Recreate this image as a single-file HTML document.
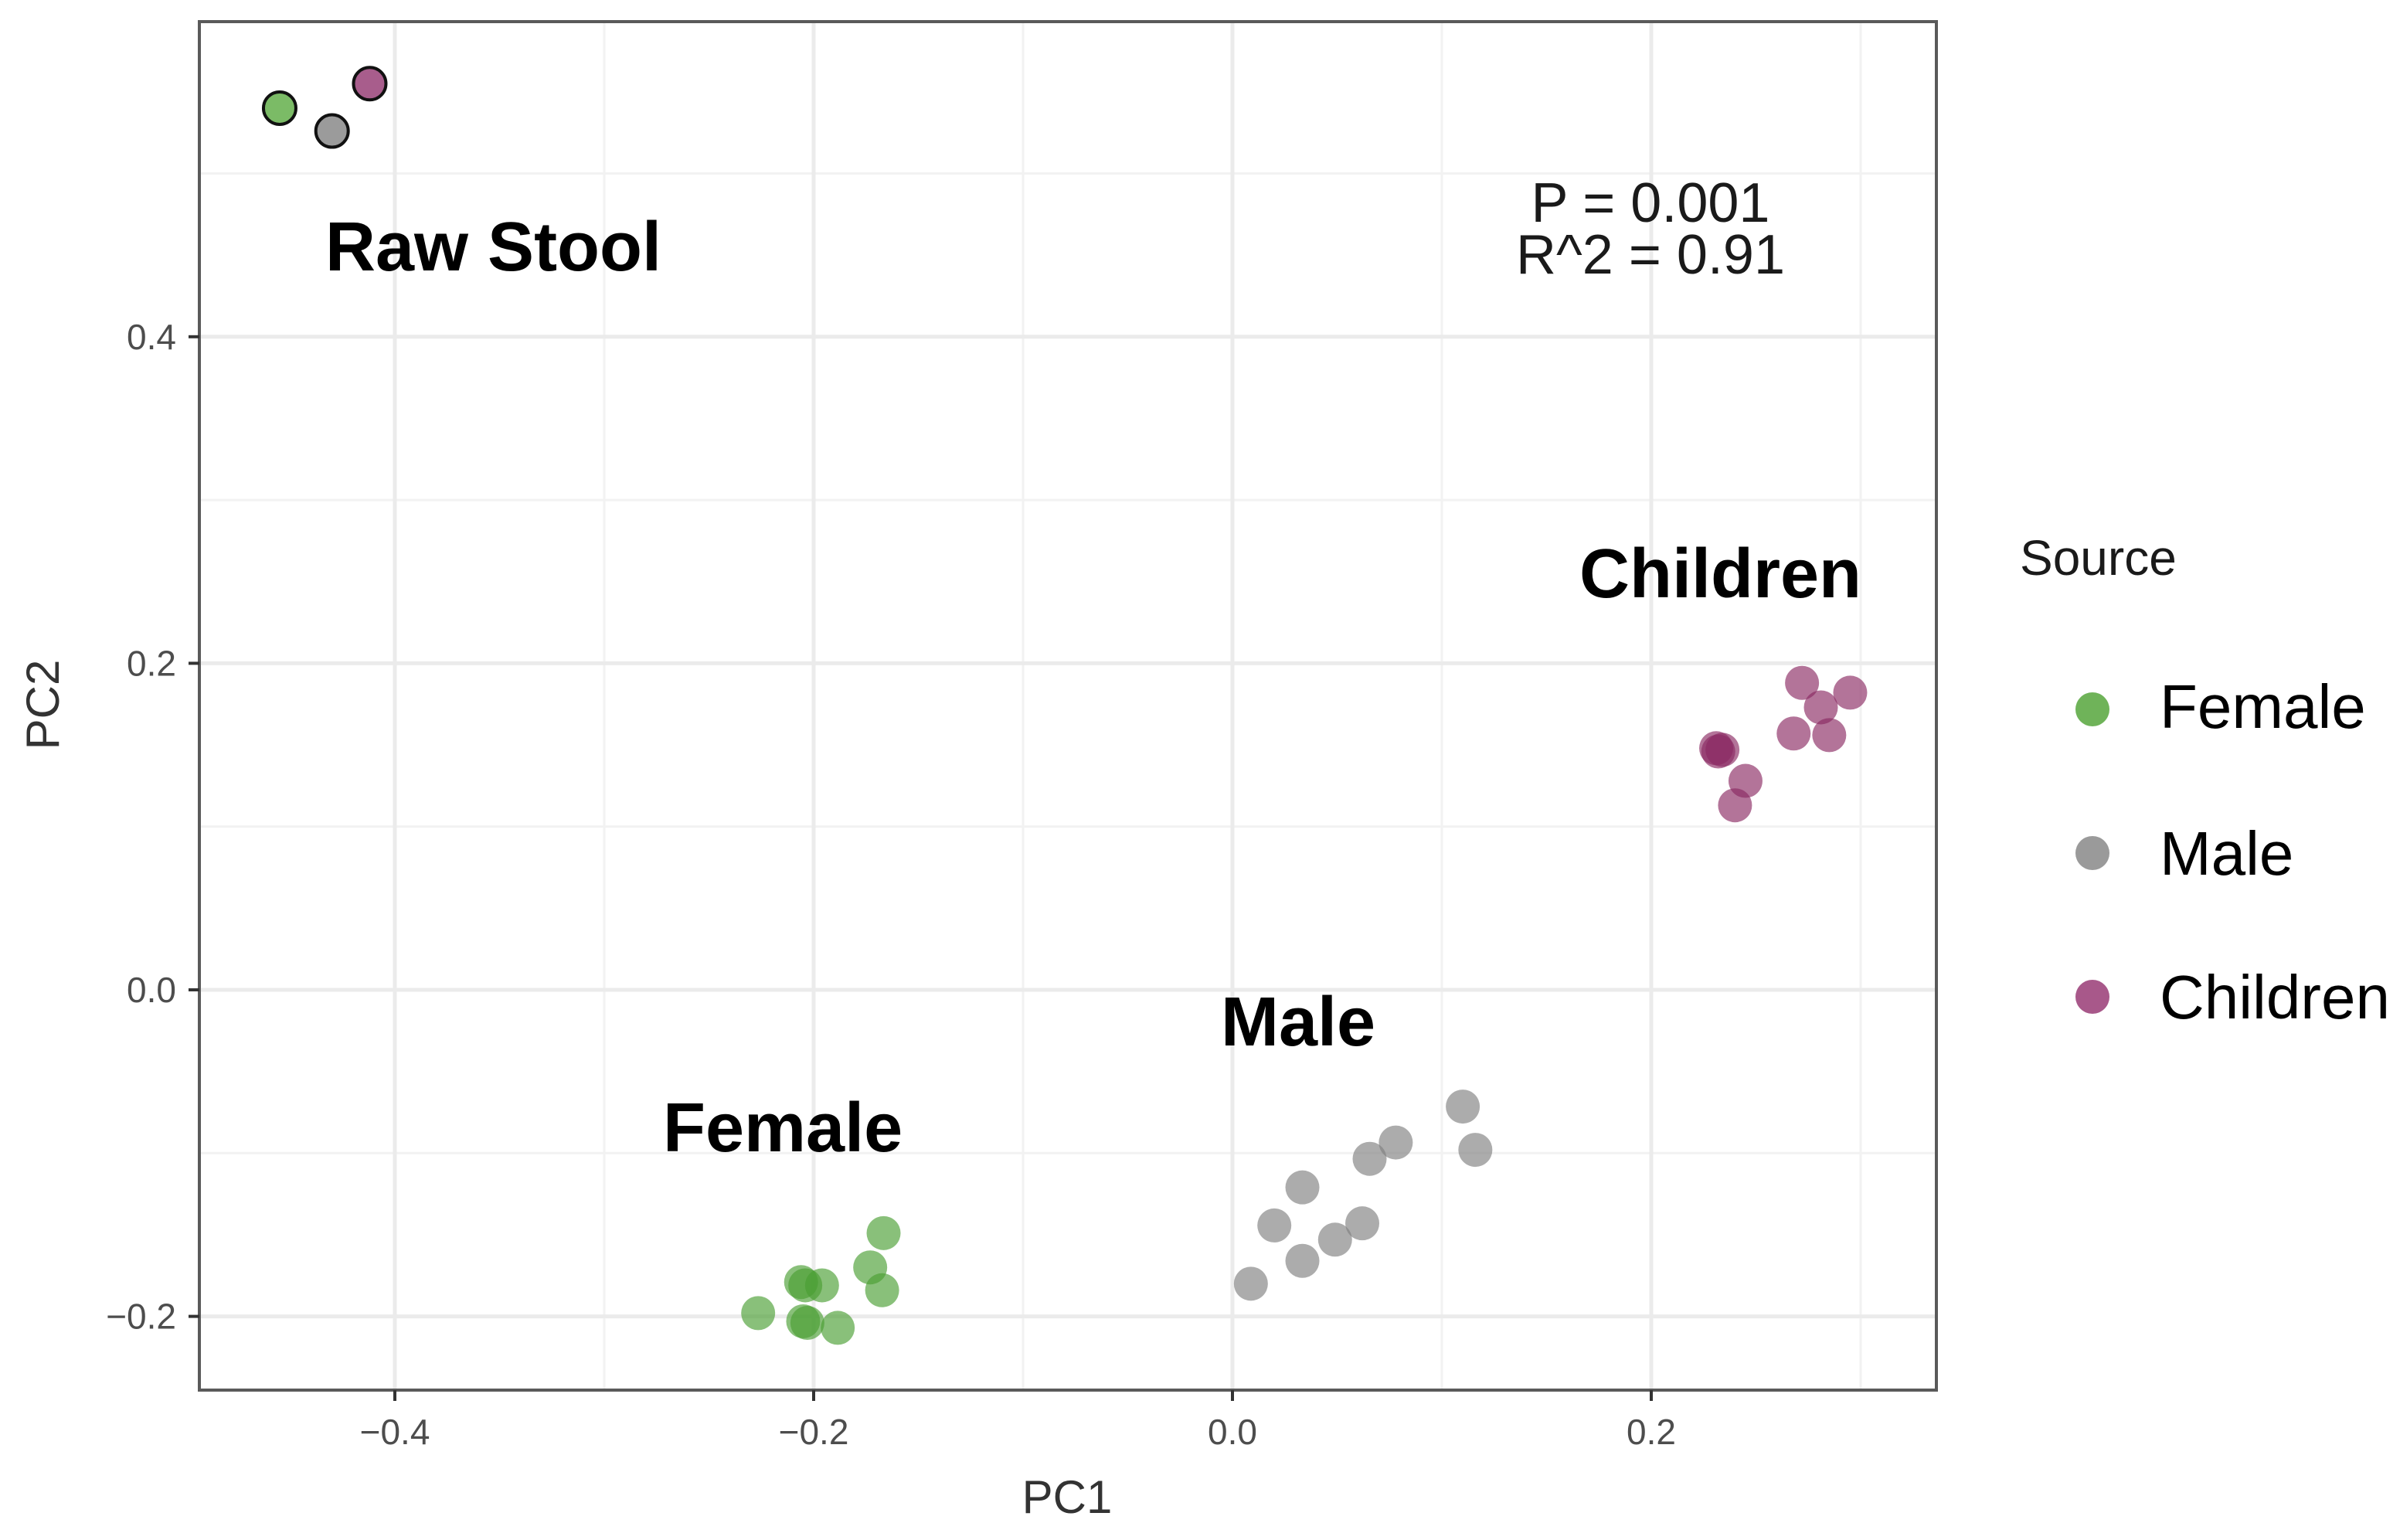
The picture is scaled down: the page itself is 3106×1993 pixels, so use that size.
<!DOCTYPE html>
<html><head><meta charset="utf-8"><style>
html,body{margin:0;padding:0;background:#fff;}
svg{display:block;font-family:"Liberation Sans",Arial,sans-serif;}
</style></head><body>
<svg id="chart" width="3106" height="1993" viewBox="0 0 3106 1993" xmlns="http://www.w3.org/2000/svg">
<rect x="0" y="0" width="3106" height="1993" fill="#fff"/>
<g id="grid"></g>
<g id="points"></g>
<rect x="258" y="28" width="2248" height="1771" fill="none" stroke="#5a5a5a" stroke-width="4"/>
<g id="axes"></g>
<text x="421" y="350" font-size="90" font-weight="bold" fill="#000">Raw Stool</text>
<text x="2044" y="773" font-size="90" font-weight="bold" fill="#000">Children</text>
<text x="1580" y="1353" font-size="90" font-weight="bold" fill="#000">Male</text>
<text x="858" y="1490" font-size="90" font-weight="bold" fill="#000">Female</text>
<text x="2136" y="287" font-size="72" text-anchor="middle" fill="#1a1a1a">P = 0.001</text>
<text x="2136" y="354" font-size="72" text-anchor="middle" fill="#1a1a1a">R^2 = 0.91</text>
<text x="1381" y="1958" font-size="60" text-anchor="middle" fill="#333">PC1</text>
<text transform="translate(76,912) rotate(-90)" font-size="60" text-anchor="middle" fill="#333">PC2</text>
<g>
<text x="2614" y="744" font-size="64" fill="#1a1a1a">Source</text>
<g><circle cx="2708" cy="918" r="22" fill="#6fb359"/><text x="2795" y="942" font-size="80" fill="#000">Female</text></g>
<g><circle cx="2708" cy="1104" r="22" fill="#9a9a9a"/><text x="2795" y="1132" font-size="80" fill="#000">Male</text></g>
<g><circle cx="2708" cy="1290" r="22" fill="#a8588a"/><text x="2795" y="1318" font-size="80" fill="#000">Children</text></g>
</g>
</svg>
<script>
const xTicks = [-0.4, -0.2, 0.0, 0.2];
const xTickLabels = ["\u22120.4", "\u22120.2", "0.0", "0.2"];
const yTicks = [-0.2, 0.0, 0.2, 0.4];
const yTickLabels = ["\u22120.2", "0.0", "0.2", "0.4"];
const femaleX = [-0.2265, -0.206, -0.204, -0.196, -0.205, -0.203, -0.1885, -0.173, -0.1666, -0.1673];
const femaleY = [-0.198, -0.179, -0.181, -0.181, -0.203, -0.204, -0.207, -0.170, -0.149, -0.184];
const maleX = [0.110, 0.116, 0.078, 0.0655, 0.0334, 0.020, 0.062, 0.049, 0.0334, 0.0088];
const maleY = [-0.0715, -0.098, -0.0935, -0.1035, -0.121, -0.1443, -0.143, -0.153, -0.166, -0.180];
const childX = [0.231, 0.234, 0.232, 0.245, 0.240, 0.272, 0.295, 0.281, 0.268, 0.285];
const childY = [0.148, 0.147, 0.146, 0.128, 0.113, 0.188, 0.182, 0.173, 0.157, 0.156];
const rawX = [-0.455, -0.430, -0.412];
const rawY = [0.540, 0.526, 0.555];
const rawGroup = ["female", "male", "children"];

const NS = "http://www.w3.org/2000/svg";
function sx(v){ return 1595 + v * 2710; }
function sy(v){ return 1281 - v * 2113; }
const X0 = 258, X1 = 2506, Y0 = 28, Y1 = 1799;
const grid = document.getElementById('grid');
const axes = document.getElementById('axes');
const pts = document.getElementById('points');
function mk(tag, attrs, parent){ const e = document.createElementNS(NS, tag); for (const k in attrs) e.setAttribute(k, attrs[k]); parent.appendChild(e); return e; }

for (let v = -0.5; v <= 0.31; v += 0.1) {
  const x = sx(v); if (x < X0 || x > X1) continue;
  const l = mk('line', {x1:x, x2:x, y1:Y0, y2:Y1, stroke:'#f2f2f2', 'stroke-width':3}, grid);
  
  
}
for (let v = -0.3; v <= 0.61; v += 0.1) {
  const y = sy(v); if (y < Y0 || y > Y1) continue;
  const l = mk('line', {x1:X0, x2:X1, y1:y, y2:y, stroke:'#f2f2f2', 'stroke-width':3}, grid);
  
  
}
xTicks.forEach((v, i) => {
  const x = sx(v);
  const l = mk('line', {x1:x, x2:x, y1:Y0, y2:Y1, stroke:'#ebebeb', 'stroke-width':5}, grid);
  
  
  const t = mk('line', {x1:x, x2:x, y1:Y1, y2:Y1+14, stroke:'#333', 'stroke-width':4}, axes);
  
  
  const tx = mk('text', {x:x, y:Y1+70, 'font-size':46, 'text-anchor':'middle', fill:'#4d4d4d'}, axes);
  tx.textContent = xTickLabels[i];
  
  
});
yTicks.forEach((v, i) => {
  const y = sy(v);
  const l = mk('line', {x1:X0, x2:X1, y1:y, y2:y, stroke:'#ebebeb', 'stroke-width':5}, grid);
  
  
  const t = mk('line', {x1:X0-14, x2:X0, y1:y, y2:y, stroke:'#333', 'stroke-width':4}, axes);
  
  
  const tx = mk('text', {x:X0-30, y:y+16, 'font-size':46, 'text-anchor':'end', fill:'#4d4d4d'}, axes);
  tx.textContent = yTickLabels[i];
  
  
});
function drawSeries(xs, ys, color, name) {
  xs.forEach((v, i) => {
    const c = mk('circle', {cx:sx(v), cy:sy(ys[i]), r:22, fill:color, 'fill-opacity':0.65}, pts);
    
    
  });
}
drawSeries(femaleX, femaleY, '#4a9e32', 'point-female');
drawSeries(maleX, maleY, '#7f7f7f', 'point-male');
drawSeries(childX, childY, '#8b2a62', 'point-children');
const rawColors = {female:'#7bbb66', male:'#9b9b9b', children:'#a85d8c'};
rawX.forEach((v, i) => {
  const c = mk('circle', {cx:sx(v), cy:sy(rawY[i]), r:21, fill:rawColors[rawGroup[i]], stroke:'#111', 'stroke-width':4}, pts);
  
  
});
</script>
</body></html>
